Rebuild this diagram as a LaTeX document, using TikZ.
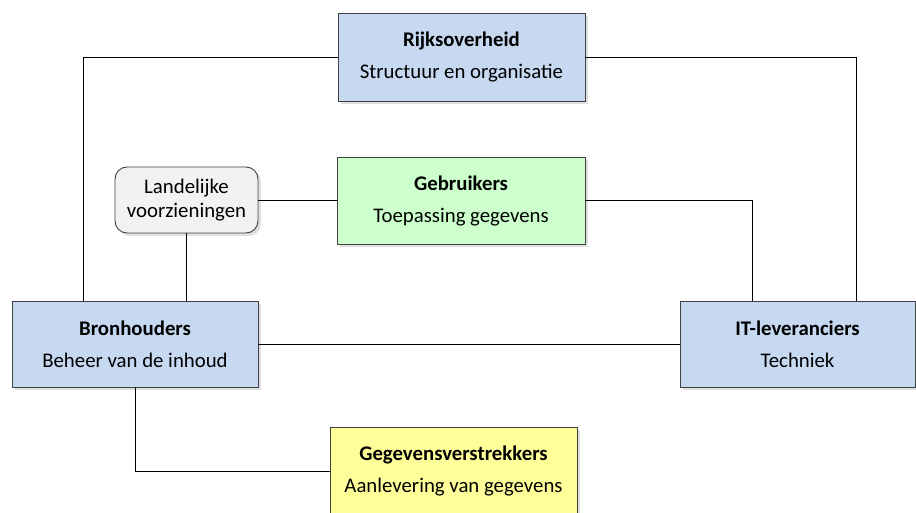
\documentclass[tikz,border=0pt]{standalone}
\usepackage{fontspec}
\setmainfont{Carlito}
\usetikzlibrary{shadows}
\definecolor{boxblue}{HTML}{C6D9F1}
\definecolor{boxgreen}{HTML}{CCFFCC}
\definecolor{boxyellow}{HTML}{FFFF99}
\definecolor{boxgray}{HTML}{F2F2F2}
\definecolor{edge}{HTML}{404040}
\tikzset{
  rolebox/.style={draw=edge, line width=0.9pt, align=center, inner sep=0pt,
    font=\fontsize{20.8}{32}\selectfont,
    drop shadow={opacity=0.25, shadow xshift=3pt, shadow yshift=-3pt}},
  wire/.style={draw=black, line width=0.8pt}
}
\begin{document}
\begin{tikzpicture}[x=1pt,y=-1pt]
\useasboundingbox (0,0) rectangle (916,513);
\clip (0,0) rectangle (916,513);
\node[rolebox, fill=boxblue, minimum width=247pt, minimum height=88pt] (rijks) at (461.5,57) {\textbf{Rijksoverheid}\\Structuur en organisatie};
\node[rolebox, fill=boxgreen, minimum width=248pt, minimum height=87pt] (gebr) at (461,200.5) {\textbf{Gebruikers}\\Toepassing gegevens};
\node[rolebox, fill=boxgray, rounded corners=12pt, minimum width=143pt, minimum height=66pt, font=\fontsize{20.8}{24}\selectfont] (land) at (186.5,200) {Landelijke\\voorzieningen};
\node[rolebox, fill=boxblue, minimum width=246pt, minimum height=86pt] (bron) at (135,344) {\textbf{Bronhouders}\\Beheer van de inhoud};
\node[rolebox, fill=boxblue, minimum width=235pt, minimum height=86pt] (it) at (797.5,344) {\textbf{IT-leveranciers}\\Techniek};
\node[rolebox, fill=boxyellow, minimum width=247pt, minimum height=88pt] (gegev) at (453.5,471) {\textbf{Gegevensverstrekkers}\\Aanlevering van gegevens};
\coordinate (xl) at (83,0);
\coordinate (xr) at (856,0);
\coordinate (xm) at (752,0);
\draw[wire] (rijks.west) -| (bron.north -| xl);
\draw[wire] (rijks.east) -| (it.north -| xr);
\draw[wire] (land.east) -- (land.east -| gebr.west);
\draw[wire] (gebr.east) -| (it.north -| xm);
\draw[wire] (land.south) -- (land.south |- bron.north);
\draw[wire] (bron.east) -- (it.west);
\draw[wire] (bron.south) |- (gegev.west);
\end{tikzpicture}
\end{document}
